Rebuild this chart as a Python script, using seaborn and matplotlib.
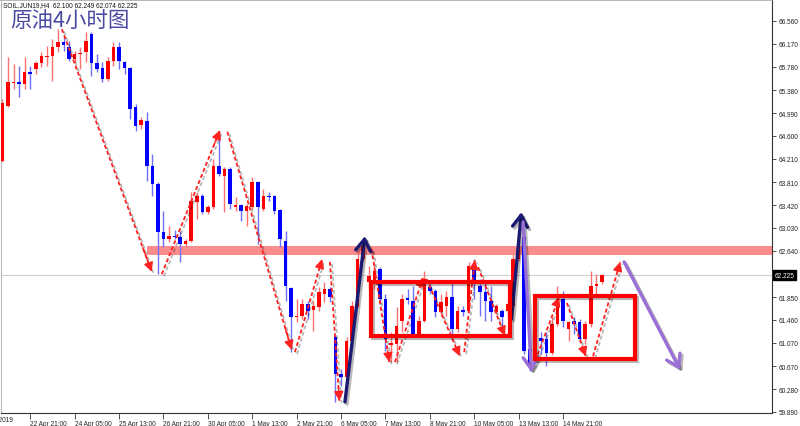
import numpy as np
import pandas as pd
import matplotlib
matplotlib.use("Agg")
import matplotlib.pyplot as plt
import matplotlib.patheffects as pe
from matplotlib.patches import Rectangle, FancyArrowPatch
from matplotlib.transforms import blended_transform_factory
import seaborn as sns

sns.set_theme(style="white")
plt.rcParams['font.family'] = ['Liberation Sans', 'DejaVu Sans']

# ---------------- data (H4 candles, SOIL.JUN19) ----------------
open_ = [64.17, 65.11, 65.50, 65.52, 65.49, 65.69, 65.74, 65.84, 65.95, 65.96,
         66.12, 66.20, 66.12, 65.91, 65.99, 66.03, 66.34, 65.84, 65.76, 65.57,
         65.88, 66.12, 65.86, 65.76, 65.09, 64.79, 64.85, 64.09, 63.78, 62.96,
         62.84, 62.89, 62.87, 62.76, 62.81, 63.47, 63.57, 63.30, 63.39, 64.09,
         63.92, 64.04, 63.39, 63.42, 63.32, 63.39, 63.81, 63.35, 63.57, 63.57,
         63.34, 62.81, 62.01, 61.51, 61.53, 61.73, 61.63, 61.68, 61.90, 61.99,
         61.17, 60.54, 60.49, 61.10, 61.70, 62.50, 62.11, 62.07, 62.33, 61.82,
         61.03, 61.05, 61.44, 61.83, 61.78, 61.22, 61.44, 62.02, 61.95, 61.60,
         61.70, 61.85, 61.31, 61.63, 61.61, 62.38, 62.04, 61.94, 61.78, 61.60,
         61.61, 61.61, 61.70, 62.50, 62.87, 60.96, 61.02, 61.15, 61.14, 60.90,
         61.39, 61.82, 61.31, 61.44, 61.43, 61.14, 61.39, 62.04, 62.100]
high = [65.23, 65.95, 65.83, 65.79, 65.95, 65.79, 65.88, 66.03, 66.13, 66.25,
        66.42, 66.29, 66.22, 66.05, 66.12, 66.37, 66.37, 66.00, 65.86, 65.95,
        66.20, 66.20, 65.88, 65.78, 65.14, 64.92, 65.01, 64.29, 63.81, 63.32,
        63.06, 62.99, 62.98, 62.84, 63.64, 63.64, 63.61, 63.42, 64.21, 64.68,
        64.07, 64.07, 63.56, 63.44, 63.44, 63.90, 63.83, 63.69, 63.64, 63.59,
        63.35, 62.98, 62.02, 61.82, 61.82, 61.78, 61.78, 62.02, 62.11, 62.02,
        61.19, 60.62, 61.17, 61.78, 62.70, 62.76, 62.38, 62.41, 62.36, 61.90,
        61.25, 61.68, 61.90, 61.99, 62.04, 61.53, 62.30, 62.07, 61.99, 61.90,
        61.95, 62.12, 61.70, 61.70, 62.45, 62.50, 62.16, 62.07, 62.04, 61.73,
        61.65, 61.82, 62.58, 63.05, 63.05, 61.14, 61.25, 61.25, 61.25, 61.51,
        62.04, 61.95, 61.44, 61.51, 61.48, 61.44, 62.30, 62.24, 62.249]
low = [64.15, 65.09, 65.40, 65.26, 65.40, 65.40, 65.66, 65.78, 65.79, 65.54,
       66.03, 66.05, 65.88, 65.86, 65.74, 65.86, 65.62, 65.69, 65.52, 65.54,
       65.79, 65.74, 65.66, 64.89, 64.68, 64.72, 63.83, 63.57, 62.24, 62.70,
       62.79, 62.84, 62.45, 62.72, 62.79, 63.18, 63.27, 63.27, 63.35, 63.92,
       63.30, 63.35, 63.32, 63.15, 63.06, 63.35, 62.76, 63.32, 63.49, 63.27,
       62.70, 61.78, 60.91, 61.43, 61.48, 61.48, 61.27, 61.61, 61.77, 61.77,
       60.06, 60.33, 60.37, 61.08, 61.68, 62.47, 61.99, 61.99, 61.73, 60.93,
       60.74, 60.74, 61.25, 61.73, 61.19, 61.19, 61.43, 61.90, 61.51, 61.53,
       61.53, 61.14, 61.25, 61.53, 61.60, 61.82, 61.53, 61.44, 61.44, 61.56,
       61.25, 61.51, 61.65, 62.47, 60.88, 60.59, 60.93, 60.88, 60.67, 60.86,
       61.36, 61.34, 61.10, 61.22, 61.10, 61.05, 61.34, 61.90, 62.074]
close = [65.16, 65.52, 65.52, 65.49, 65.69, 65.66, 65.84, 65.96, 65.97, 66.12,
         66.20, 66.15, 65.91, 66.00, 66.01, 66.22, 65.84, 65.74, 65.57, 65.88,
         66.12, 65.88, 65.76, 65.06, 64.77, 64.87, 64.09, 63.78, 62.96, 62.84,
         62.89, 62.87, 62.76, 62.81, 63.49, 63.57, 63.30, 63.39, 64.09, 63.95,
         64.04, 63.44, 63.42, 63.32, 63.40, 63.81, 63.39, 63.57, 63.55, 63.32,
         62.84, 62.04, 61.51, 61.53, 61.73, 61.61, 61.70, 61.94, 61.99, 61.85,
         60.54, 60.49, 61.10, 61.70, 62.50, 62.72, 62.21, 62.30, 61.82, 61.14,
         61.07, 61.36, 61.82, 61.80, 61.22, 61.44, 62.16, 61.95, 61.60, 61.77,
         61.85, 61.31, 61.61, 61.60, 62.38, 62.11, 61.94, 61.78, 61.60, 61.70,
         61.51, 61.73, 62.50, 62.84, 60.93, 60.71, 61.17, 61.10, 60.90, 61.39,
         61.82, 61.44, 61.43, 61.39, 61.14, 61.39, 62.04, 62.07, 62.225]

time_tick_bars = [5, 13, 21, 29, 37, 45, 53, 61, 69, 77, 85, 93, 101]
time_tick_labels = ["22 Apr 21:00", "24 Apr 05:00", "25 Apr 13:00", "26 Apr 21:00",
                    "30 Apr 05:00", "1 May 13:00", "2 May 21:00", "6 May 05:00",
                    "7 May 13:00", "8 May 21:00", "10 May 05:00", "13 May 13:00",
                    "14 May 21:00"]
first_date_label = "18 Apr 2019"
price_ticks = [66.560, 66.170, 65.780, 65.380, 64.990, 64.600, 64.210, 63.810,
               63.420, 63.030, 62.640, 61.850, 61.460, 61.070, 60.670, 60.280, 59.890]
bid_price = 62.225
header_text = "SOIL.JUN19,H4  62.100 62.249 62.074 62.225"
title_text = "原油4小时图"

# annotations (bar index, price)
resistance_band = (26.0, 62.56, 62.72)
dashed_legs = [((10.7, 66.42), (26.9, 62.28)),
               ((28.7, 62.24), (39.2, 64.70)),
               ((40.5, 64.67), (52.1, 60.95)),
               ((52.7, 60.91), (57.6, 62.50)),
               ((59.0, 62.45), (60.7, 60.08)),
               ((66.5, 62.67), (69.7, 60.74)),
               ((70.7, 60.74), (75.8, 62.19)),
               ((76.4, 62.16), (82.4, 60.84)),
               ((83.2, 60.91), (85.1, 62.48)),
               ((85.7, 62.36), (90.5, 61.19)),
               ((95.6, 60.66), (100.3, 61.85)),
               ((101.7, 61.75), (105.1, 60.84)),
               ((106.4, 60.84), (111.3, 62.45))]
navy_legs = [((61.7, 60.06), (65.3, 62.89)),
             ((91.7, 61.48), (93.5, 63.30))]
purple_legs = [((93.8, 63.13), (95.3, 60.57)),
               ((112.0, 62.45), (122.1, 60.61))]
boxes = [(66.4, 91.4, 61.19, 62.11),
         (95.9, 114.0, 60.79, 61.87)]

# ---------------- figure ----------------
df = pd.DataFrame({"bar": np.arange(len(open_)), "open": open_, "high": high,
                   "low": low, "close": close})
df["bull"] = df["close"] >= df["open"]

fig = plt.figure(figsize=(8, 4.27), dpi=100)
fig.patch.set_facecolor("white")
ax = fig.add_axes([1 / 800, 13 / 427, 771 / 800, 413 / 427])
ax.set_facecolor("white")
ax.set_xlim(-0.27, 138.65)
ax.set_ylim(59.872, 66.918)

shadow = [pe.SimpleLineShadow(offset=(1.5, -1.5), shadow_color="black", alpha=0.28),
          pe.Normal()]

# resistance band and bid line
x0b, lob, hib = resistance_band
ax.fill_between([x0b, 145], lob, hib, color="#ff8080", alpha=0.9, lw=0, zorder=1)
ax.axhline(bid_price, color="#d0d0d0", lw=0.8, zorder=1)

# candles
wick_col = np.where(df["bull"], "#ff7070", "#7070ff")
body_col = np.where(df["bull"], "#ff0000", "#0000ff")
ax.vlines(df["bar"], df["low"], df["high"], colors=wick_col, lw=1.0, zorder=2)
body_bottom = np.minimum(df["open"], df["close"])
body_height = np.maximum(np.abs(df["close"] - df["open"]), 0.02)
ax.bar(df["bar"], body_height, bottom=body_bottom, width=0.64, color=body_col,
       lw=0, zorder=3)

# dashed red zigzag legs
for (xs, ys), (xe, ye) in dashed_legs:
    ax.plot([xs, xe], [ys, ye], ls=(0, (2.2, 1.4)), lw=1.3, color="#ff2020",
            zorder=5, path_effects=shadow)
    ax.add_patch(FancyArrowPatch((xs + (xe - xs) * 0.9, ys + (ye - ys) * 0.9), (xe, ye),
                                 arrowstyle="-|>,head_length=0.7,head_width=0.35",
                                 mutation_scale=8, color="#ff2020", lw=1.0,
                                 shrinkA=0, shrinkB=0, zorder=5))

# solid arrows
for legs, col in ((navy_legs, "#1a1a72"), (purple_legs, "#9a6fd6")):
    for (xs, ys), (xe, ye) in legs:
        ax.add_patch(FancyArrowPatch((xs, ys), (xe, ye),
                                     arrowstyle="->,head_length=0.7,head_width=0.45",
                                     mutation_scale=12, color=col, lw=2.4,
                                     shrinkA=0, shrinkB=0, zorder=6,
                                     path_effects=shadow))

# consolidation boxes
for xl, xr, yb, yt in boxes:
    ax.add_patch(Rectangle((xl, yb), xr - xl, yt - yb, fill=False, ec="#ff0000",
                           lw=3.0, joinstyle="miter", zorder=6, path_effects=shadow))

# axes styling
ax.yaxis.tick_right()
ax.set_yticks(price_ticks)
ax.set_yticklabels([f"{v:.3f}" for v in price_ticks])
ax.set_xticks(time_tick_bars)
ax.set_xticklabels(time_tick_labels)
for lab in ax.get_xticklabels():
    lab.set_horizontalalignment("left")
ax.tick_params(axis="y", which="both", right=True, left=False, direction="out",
               length=3, width=0.6, color="#333333", labelsize=4.7, pad=1.5,
               labelcolor="#222222")
ax.tick_params(axis="x", which="both", bottom=True, direction="out", length=4,
               width=0.6, color="#333333", labelsize=4.7, pad=0.8, labelcolor="#222222")
for side, col, lw in (("left", "#bbbbbb", 0.8), ("top", "#aaaaaa", 1.2),
                      ("right", "#333333", 0.8), ("bottom", "#333333", 0.8)):
    ax.spines[side].set_visible(True)
    ax.spines[side].set_color(col)
    ax.spines[side].set_linewidth(lw)
ax.grid(False)

# first (cut-off) date label, as in the reference
ax.text(1.9, -0.0155, first_date_label, transform=blended_transform_factory(ax.transData, ax.transAxes),
        ha="right", va="center", fontsize=4.7, color="#222222", clip_on=False)

# bid price label
ax.text(1.003, bid_price, f"{bid_price:.3f}",
        transform=blended_transform_factory(ax.transAxes, ax.transData),
        ha="left", va="center", fontsize=4.7, color="white", clip_on=False, zorder=10,
        bbox=dict(boxstyle="square,pad=0.25", fc="black", ec="black"))

# header texts
fig.text(3 / 800, 1 - 6 / 427, header_text, fontsize=4.7, ha="left", va="center",
         color="#111111")
fig.text(10 / 800, 1 - 22 / 427, title_text, fontsize=15.5, ha="left", va="center",
         color="#4a4aa2", family=["Noto Sans CJK SC", "DejaVu Sans"])

fig.savefig("out.png", dpi=100, facecolor="white")
